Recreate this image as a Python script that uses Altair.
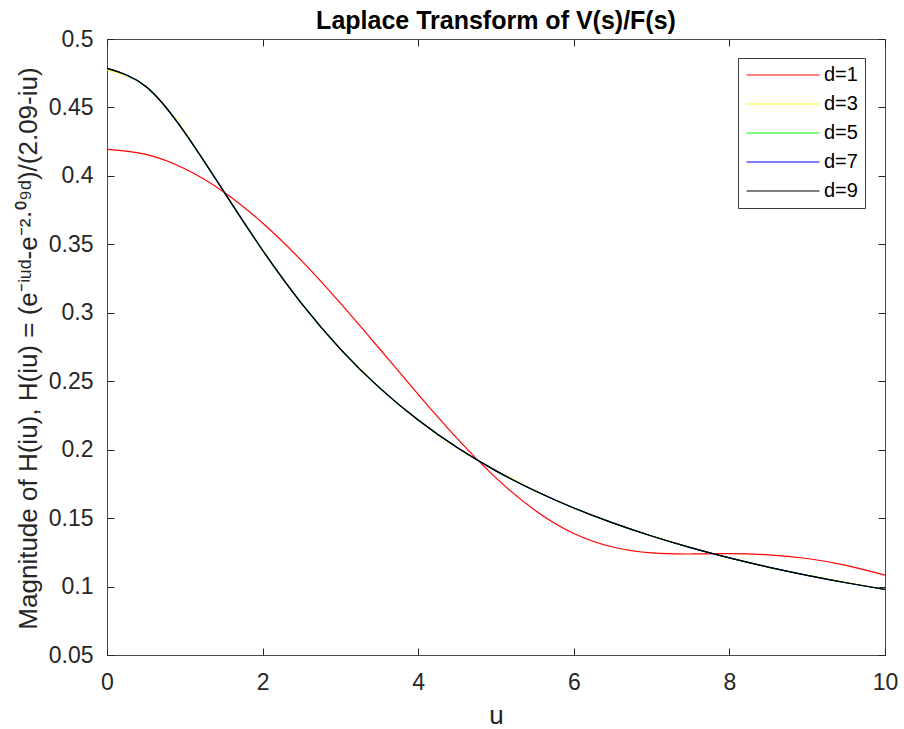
import altair as alt
import pandas as pd

# ---- data ----
u_vals = [0, 0.5, 1, 1.5, 2, 2.5, 3, 3.5, 4, 4.5, 5, 5.5, 6, 6.5, 7, 7.5, 8, 8.5, 9, 9.5, 10]
d1 = [0.4193, 0.4157, 0.4052, 0.3883, 0.3656, 0.3381, 0.3070, 0.2739, 0.2404, 0.2082, 0.1794,
      0.1558, 0.1388, 0.1289, 0.1246, 0.1238, 0.1240, 0.1232, 0.1205, 0.1155, 0.1083]
d3 = [0.4776, 0.4653, 0.4324, 0.3888, 0.3451, 0.3067, 0.2740, 0.2455, 0.2212, 0.2013, 0.1848,
      0.1702, 0.1572, 0.1463, 0.1370, 0.1286, 0.1208, 0.1140, 0.1083, 0.1030, 0.0979]
d5 = [0.4785, 0.4653, 0.4316, 0.3887, 0.3457, 0.3069, 0.2735, 0.2453, 0.2216, 0.2015, 0.1845,
      0.1700, 0.1574, 0.1465, 0.1369, 0.1284, 0.1209, 0.1142, 0.1082, 0.1028, 0.0979]
d7 = [0.4785, 0.4653, 0.4316, 0.3887, 0.3457, 0.3069, 0.2735, 0.2453, 0.2216, 0.2015, 0.1845,
      0.1700, 0.1574, 0.1465, 0.1369, 0.1284, 0.1209, 0.1142, 0.1082, 0.1028, 0.0979]
d9 = [0.4785, 0.4653, 0.4316, 0.3887, 0.3457, 0.3069, 0.2735, 0.2453, 0.2216, 0.2015, 0.1845,
      0.1700, 0.1574, 0.1465, 0.1369, 0.1284, 0.1209, 0.1142, 0.1082, 0.1028, 0.0979]

series_names = ["d=1", "d=3", "d=5", "d=7", "d=9"]
series_values = [d1, d3, d5, d7, d9]
series_colors = ["#ff0000", "#ffff00", "#00ff00", "#0000ff", "#000000"]

x_ticks = [0, 2, 4, 6, 8, 10]
y_ticks = [0.05, 0.1, 0.15, 0.2, 0.25, 0.3, 0.35, 0.4, 0.45, 0.5]

rows = []
for name, vals in zip(series_names, series_values):
    for uu, vv in zip(u_vals, vals):
        rows.append({"u": uu, "mag": vv, "series": name})
df = pd.DataFrame(rows)

FONT = "Liberation Sans"
AX = "#262626"
W, H = 778, 616

x_scale = alt.Scale(domain=[0, 10], nice=False, zero=False)
y_scale = alt.Scale(domain=[0.05, 0.5], nice=False, zero=False)

ylabel = "Magnitude of H(iu), H(iu) = (e\u207b\u2071\u1d58\u1d48-e\u207b\u00b2\u00b7\u2070\u2079\u1d48)/(2.09-iu)"

lines = alt.Chart(df).mark_line(strokeWidth=1.2, interpolate="natural").encode(
    x=alt.X("u:Q", scale=x_scale, axis=alt.Axis(
        orient="bottom", values=x_ticks, offset=-7, tickSize=7, domain=False, grid=False,
        labelFontSize=23, labelFont=FONT, labelColor=AX, tickColor=AX, labelPadding=16,
        labelFlush=False, labelOverlap=False,
        title="u", titleFontSize=26, titleFont=FONT, titleFontWeight="normal", titleColor=AX,
        titleX=W / 2, titleY=75, titleBaseline="alphabetic", titleAlign="center")),
    y=alt.Y("mag:Q", scale=y_scale, axis=alt.Axis(
        orient="left", values=y_ticks, format="~g", offset=-7, tickSize=7, domain=False, grid=False,
        labelFontSize=23, labelFont=FONT, labelColor=AX, tickColor=AX, labelPadding=14,
        labelFlush=False, labelOverlap=False,
        title=ylabel, titleFontSize=26, titleFont=FONT, titleFontWeight="normal", titleColor=AX,
        titleAngle=270, titleX=-78, titleY=309, titleBaseline="alphabetic", titleAlign="center")),
    color=alt.Color("series:N", scale=alt.Scale(domain=series_names, range=series_colors),
                    legend=alt.Legend(title=None, orient="none", legendX=631, legendY=19,
                                      symbolType="M-4,0H4", symbolSize=333, symbolStrokeWidth=1.2,
                                      symbolOffset=28, labelOffset=31,
                                      labelFontSize=20, labelFont=FONT, labelColor="black",
                                      rowPadding=9, padding=7,
                                      strokeColor="#3a3a3a", fillColor="white")),
)

ghost = alt.Chart(df).mark_line(opacity=0).encode(
    x=alt.X("u:Q", scale=x_scale, axis=alt.Axis(
        orient="top", values=x_ticks, offset=-7, tickSize=7, domain=False, grid=False,
        labels=False, tickColor=AX, title=None)),
    y=alt.Y("mag:Q", scale=y_scale, axis=alt.Axis(
        orient="right", values=y_ticks, offset=-7, tickSize=7, domain=False, grid=False,
        labels=False, tickColor=AX, title=None)),
    detail="series:N",
)

chart = alt.layer(lines, ghost).resolve_axis(x="independent", y="independent").properties(
    width=W, height=H,
    title=alt.Title("Laplace Transform of V(s)/F(s)", fontSize=25, fontWeight="bold", font=FONT,
                    color="black", anchor="middle", frame="group", offset=4, dy=10),
    autosize="none",
    padding={"left": 107, "top": 39, "right": 19, "bottom": 74},
    background="white",
).configure_view(stroke="#4a4a4a", strokeWidth=1)

chart.save("out.html", embed_options={"renderer": "svg", "actions": False})
